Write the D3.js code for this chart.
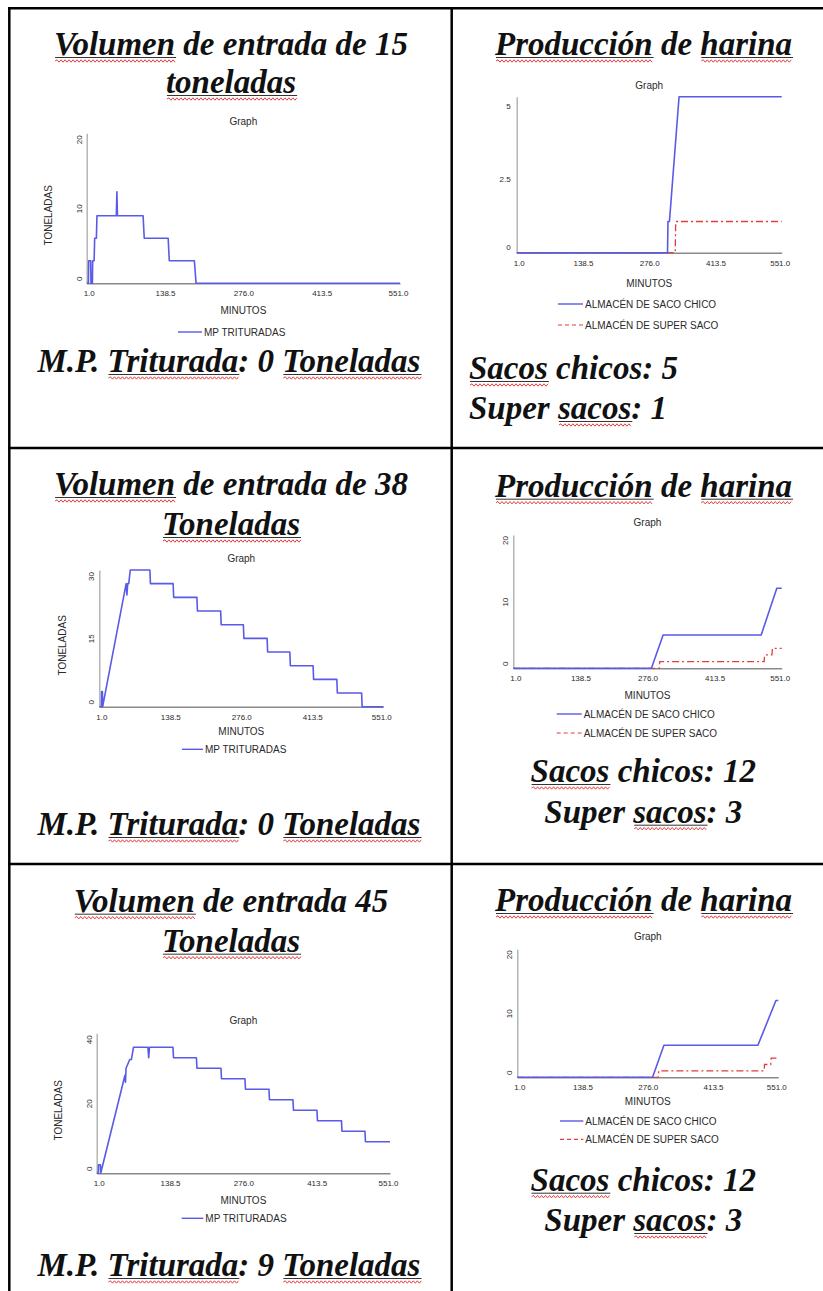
<!DOCTYPE html>
<html><head><meta charset="utf-8">
<script src="https://cdn.jsdelivr.net/npm/d3@7"></script>
<style>
html,body{margin:0;padding:0;background:#fff;}
svg{display:block;}
.big{font-family:"Liberation Serif","Times New Roman",serif;font-weight:bold;font-style:italic;font-size:33px;fill:#111;}
.sm{font-family:"Liberation Sans",Arial,sans-serif;fill:#2a2a2a;}
</style></head><body>
<svg id="c" width="823" height="1291"></svg>
<script>
// ---------- DATA ----------
const xTickValues = [1.0, 138.5, 276.0, 413.5, 551.0];
const xTickLabels = ["1.0", "138.5", "276.0", "413.5", "551.0"];

// MP TRITURADAS (toneladas) vs minutos
const mp15Time  = [1, 4, 4.5, 8, 8.5, 11, 11.5, 14, 15, 18, 19, 53, 54, 55, 100, 102, 144, 146, 190, 193, 551];
const mp15Value = [0, 0, 3, 3, 0, 0, 3, 3, 6, 6, 9, 9, 12.2, 9, 9, 6, 6, 3, 3, 0, 0];
const mp38Time  = [1, 5, 5.5, 7, 7.5, 53, 54.5, 56, 58, 61, 99, 100, 144, 145, 190, 191, 236, 237, 280, 281, 326, 327, 370, 371, 415, 416, 461, 462, 509, 510, 551];
const mp38Value = [0, 0, 3.3, 3.3, 0, 27, 24.5, 27, 27, 30, 30, 27, 27, 24, 24, 21, 21, 18, 18, 15, 15, 12, 12, 9, 9, 6, 6, 3, 3, 0, 0];
const mp45Time  = [1, 4, 4.5, 8, 8.5, 54, 55, 56, 63, 66, 70, 97, 98.5, 100, 144, 145, 188, 189, 234, 235, 279, 280, 324, 325, 369, 370, 414, 415, 460, 461, 504, 505, 551];
const mp45Value = [0, 0, 2.4, 2.4, 0, 28, 26, 30, 32.5, 32.5, 36, 36, 33, 36, 36, 33, 33, 30, 30, 27, 27, 24, 24, 21, 21, 18, 18, 15, 15, 12, 12, 9, 9];
const yTicksMp15 = [0, 10, 20];
const yTicksMp38 = [0, 15, 30];
const yTicksMp45 = [0, 20, 40];

// Producción de harina
const chico15Time  = [1, 314, 315, 318, 338, 551];
const chico15Value = [0, 0, 1, 1, 5, 5];
const super15Time  = [1, 330, 331, 551];
const super15Value = [0, 0, 1, 1];
const chico38Time  = [1, 284, 308, 509, 541, 551];
const chico38Value = [0, 0, 5, 5, 12, 12];
const super38Time  = [1, 300, 301, 515, 516, 531, 532, 551];
const super38Value = [0, 0, 1, 1, 2, 2, 3, 3];
const chico45Time  = [1, 286, 310, 508, 546, 551];
const chico45Value = [0, 0, 5, 5, 12, 12];
const super45Time  = [1, 298, 299, 521, 522, 535, 536, 551];
const super45Value = [0, 0, 1, 1, 2, 2, 3, 3];
const yTicksProd15 = [0, 2.5, 5];
const yTicksProd38 = [0, 10, 20];
const yTicksProd45 = [0, 10, 20];

// Texts
const graphTitle = "Graph";
const xAxisTitle = "MINUTOS";
const yAxisTitle = "TONELADAS";
const seriesMp = "MP TRITURADAS";
const seriesChico = "ALMACÉN DE SACO CHICO";
const seriesSuper = "ALMACÉN DE SUPER SACO";
const title15 = ["Volumen de entrada de 15", "toneladas"];
const title38 = ["Volumen de entrada de 38", "Toneladas"];
const title45 = ["Volumen de entrada 45", "Toneladas"];
const result15 = "M.P. Triturada: 0 Toneladas";
const result38 = "M.P. Triturada: 0 Toneladas";
const result45 = "M.P. Triturada: 9 Toneladas";
const prodTitle = "Producción de harina";
const sacos15 = ["Sacos chicos: 5", "Super sacos: 1"];
const sacos38 = ["Sacos chicos: 12", "Super sacos: 3"];
const sacos45 = ["Sacos chicos: 12", "Super sacos: 3"];
const underlined = ["Volumen", "toneladas", "Toneladas", "Triturada", "Producción", "harina", "Sacos", "sacos"];

// ---------- DRAW ----------
const svg = d3.select("#c");
const BLUE = "#5a5ae8", RED = "#e23c3c";

// table borders
const borderH = [8.3, 448, 864];
borderH.forEach(y => svg.append("line").attr("x1", 8).attr("x2", 823).attr("y1", y).attr("y2", y)
  .attr("stroke", "#000").attr("stroke-width", 2.5));
[9.3, 451.7].forEach(x => svg.append("line").attr("x1", x).attr("x2", x).attr("y1", 7).attr("y2", 1291)
  .attr("stroke", "#000").attr("stroke-width", 2.5));

function bigText(x, y, str, anchor) {
  const t = svg.append("text").attr("class", "big").attr("x", x).attr("y", y)
    .attr("text-anchor", anchor).text(str);
  const node = t.node();
  underlined.forEach(w => {
    const re = new RegExp("\\b" + w + "\\b");
    const m = str.match(re);
    if (!m) return;
    const i = m.index;
    const s = node.getStartPositionOfChar(i).x + 1;
    const e = node.getEndPositionOfChar(i + w.length - 1).x + 1;
    svg.append("line").attr("x1", s).attr("x2", e).attr("y1", y + 2.5).attr("y2", y + 2.5)
      .attr("stroke", "#333").attr("stroke-width", 1);
    let d = `M${s},${y + 6}`; let k = 0;
    for (let xx = s + 2; xx <= e; xx += 2) { k++; d += `L${xx},${y + 6 + (k % 2 ? -1.2 : 1.2)}`; }
    svg.append("path").attr("d", d).attr("fill", "none").attr("stroke", "#e02828").attr("stroke-width", 0.9);
  });
}

function chartFrame(L, yTicks, rotated, yOff) {
  const x = d3.scaleLinear().domain([1, 551]).range([L.x0, L.x1]);
  const y = d3.scaleLinear().domain([0, yTicks[yTicks.length - 1]]).range([L.yBase, L.yTop]);
  const g = svg.append("g");
  g.append("text").attr("class", "sm").attr("x", (L.x0 + L.x1) / 2).attr("y", L.gy)
    .attr("text-anchor", "middle").attr("font-size", 10).text(graphTitle);
  const xa = g.append("g").attr("transform", `translate(0,${L.yBase})`)
    .call(d3.axisBottom(x).tickValues(xTickValues).tickSize(0).tickFormat((d, i) => xTickLabels[i]));
  xa.select(".domain").attr("stroke", "#8a8a8a").attr("stroke-width", 1.6);
  xa.selectAll("text").attr("class", "sm").attr("font-size", 8).attr("y", 13).attr("dy", null)
    .attr("dx", (d, i) => i === 0 ? 2 : (i === xTickValues.length - 1 ? -2 : 0));
  const ya = g.append("g").attr("transform", `translate(${L.x0},0)`)
    .call(d3.axisLeft(y).tickValues(yTicks).tickSize(0));
  ya.select(".domain").attr("stroke", "#b0b0b0").attr("stroke-width", 1.4);
  if (rotated) {
    ya.selectAll("text").attr("class", "sm").attr("font-size", 8).attr("x", 0).attr("dy", "0.35em")
      .attr("text-anchor", "middle")
      .attr("transform", (d, i) => `translate(-8,${yOff[i]}) rotate(-90)`);
  } else {
    ya.selectAll("text").attr("class", "sm").attr("font-size", 8).attr("x", -6).attr("dy", "0.35em")
      .attr("transform", (d, i) => `translate(0,${yOff[i]})`);
  }
  ya.selectAll("text").text((d) => d);
  g.append("text").attr("class", "sm").attr("x", (L.x0 + L.x1) / 2).attr("y", L.my)
    .attr("text-anchor", "middle").attr("font-size", 10).text(xAxisTitle);
  return { x, y, g };
}

function lineOf(sc, t, v) {
  return d3.line().x((d, i) => sc.x(t[i])).y((d, i) => sc.y(v[i]))(t);
}

function mpPanel(L, yTicks, t, v, title, result) {
  bigText(231, L.t1, title[0], "middle");
  bigText(231, L.t2, title[1], "middle");
  const sc = chartFrame(L, yTicks, true, [-5, 0, 6]);
  sc.g.append("text").attr("class", "sm").attr("font-size", 10).attr("text-anchor", "middle")
    .attr("transform", `translate(${L.tx},${(L.yTop + L.yBase) / 2 + 7}) rotate(-90)`)
    .attr("dy", "0.35em").text(yAxisTitle);
  sc.g.append("path").attr("d", lineOf(sc, t, v)).attr("fill", "none")
    .attr("stroke", BLUE).attr("stroke-width", 1.6).attr("stroke-linejoin", "round");
  sc.g.append("line").attr("x1", L.lx0).attr("x2", L.lx1).attr("y1", L.ly).attr("y2", L.ly)
    .attr("stroke", BLUE).attr("stroke-width", 1.4);
  sc.g.append("text").attr("class", "sm").attr("font-size", 10).attr("x", L.lx1 + 2).attr("y", L.ly + 3.5).text(seriesMp);
  bigText(229, L.r, result, "middle");
}

mpPanel({x0: 86.7, x1: 400, yTop: 133.3, yBase: 283.3, gy: 124.5, my: 313.5, tx: 48,
         lx0: 178, lx1: 202, ly: 332, t1: 55, t2: 93, r: 372},
        yTicksMp15, mp15Time, mp15Value, title15, result15);
mpPanel({x0: 99.3, x1: 383.3, yTop: 570, yBase: 706.7, gy: 561.5, my: 735.2, tx: 62,
         lx0: 182, lx1: 203, ly: 749.3, t1: 495, t2: 535, r: 835},
        yTicksMp38, mp38Time, mp38Value, title38, result38);
mpPanel({x0: 96.7, x1: 390, yTop: 1033.3, yBase: 1173.3, gy: 1023.5, my: 1203.5, tx: 58.5,
         lx0: 181.7, lx1: 203.3, ly: 1218.3, t1: 911.7, t2: 951.7, r: 1276},
        yTicksMp45, mp45Time, mp45Value, title45, result45);

function prodPanel(L, yTicks, rotated, yOff, ct, cv, st, sv, sacos) {
  bigText(643.5, L.t1, prodTitle, "middle");
  const sc = chartFrame(L, yTicks, rotated, yOff);
  sc.g.append("path").attr("d", lineOf(sc, st, sv)).attr("fill", "none")
    .attr("stroke", RED).attr("stroke-width", 1.3).attr("stroke-dasharray", "7,3,2,3");
  sc.g.append("path").attr("d", lineOf(sc, ct, cv)).attr("fill", "none")
    .attr("stroke", BLUE).attr("stroke-width", 1.6).attr("stroke-linejoin", "round");
  sc.g.append("line").attr("x1", L.lx0).attr("x2", L.lx1).attr("y1", L.ly1).attr("y2", L.ly1)
    .attr("stroke", BLUE).attr("stroke-width", 1.4);
  sc.g.append("text").attr("class", "sm").attr("font-size", 10).attr("x", L.lx1 + 2).attr("y", L.ly1 + 3.5).text(seriesChico);
  sc.g.append("line").attr("x1", L.lx0).attr("x2", L.lx1).attr("y1", L.ly2).attr("y2", L.ly2)
    .attr("stroke", RED).attr("stroke-width", 1.2).attr("stroke-dasharray", "4,3");
  sc.g.append("text").attr("class", "sm").attr("font-size", 10).attr("x", L.lx1 + 2).attr("y", L.ly2 + 3.5).text(seriesSuper);
  bigText(L.sx, L.s1, sacos[0], L.anchor);
  bigText(L.sx, L.s2, sacos[1], L.anchor);
}

prodPanel({x0: 516.7, x1: 781.7, yTop: 96.7, yBase: 252.7, gy: 88.5, my: 286.5,
           lx0: 558, lx1: 583, ly1: 304, ly2: 325, t1: 55, sx: 469, s1: 379, s2: 419, anchor: "start"},
          yTicksProd15, false, [-6, 4, 9], chico15Time, chico15Value, super15Time, super15Value, sacos15);
prodPanel({x0: 513.3, x1: 781.7, yTop: 535, yBase: 668.3, gy: 526.2, my: 698.5,
           lx0: 556.7, lx1: 581.7, ly1: 714, ly2: 733, t1: 496.7, sx: 643.3, s1: 782, s2: 822.7, anchor: "middle"},
          yTicksProd38, true, [-5, 0, 5], chico38Time, chico38Value, super38Time, super38Value, sacos38);
prodPanel({x0: 517.3, x1: 778.3, yTop: 949.3, yBase: 1077.3, gy: 939.5, my: 1105.2,
           lx0: 560, lx1: 583.3, ly1: 1121, ly2: 1139.3, t1: 911, sx: 643.3, s1: 1190.7, s2: 1231, anchor: "middle"},
          yTicksProd45, true, [-5, 0, 5], chico45Time, chico45Value, super45Time, super45Value, sacos45);
</script>
</body></html>
